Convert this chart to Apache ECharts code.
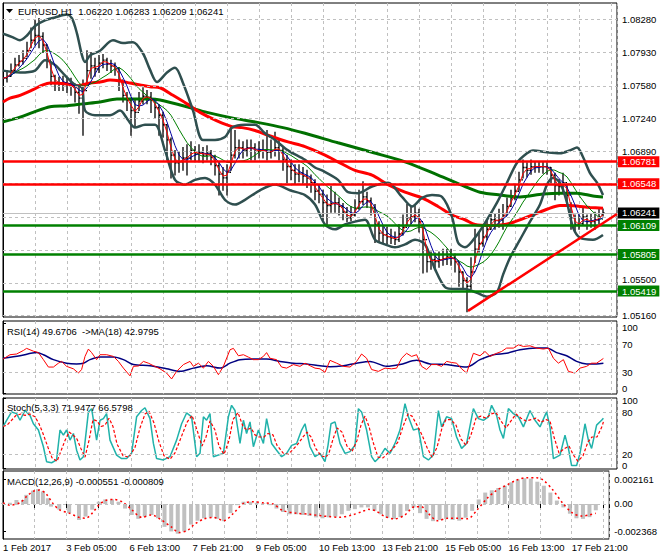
<!DOCTYPE html>
<html><head><meta charset="utf-8">
<script src="https://cdn.jsdelivr.net/npm/echarts@6/dist/echarts.min.js"></script>
<style>html,body{margin:0;padding:0;background:#fff}#c{width:660px;height:560px}</style>
</head><body><div id="c"></div>
<script>
// ---------- data ----------
const timeLabels = ["1 Feb 2017","3 Feb 05:00","6 Feb 13:00","7 Feb 21:00","9 Feb 05:00","10 Feb 13:00","13 Feb 21:00","15 Feb 05:00","16 Feb 13:00","17 Feb 21:00"];
const priceTicks = [1.08280,1.07930,1.07580,1.07240,1.06890,1.06550,1.06200,1.05850,1.05500,1.05160];
const priceTickLabels = [1.08280,1.07930,1.07580,1.07240,1.06890,1.05160]; // the others sit under the level tags
const rsiTicks = [0,30,70,100];
const rsiTickLabels = [30,70];
const stochTicks = [0,20,80,100];
const stochTickLabels = [20,80];
const macdTicks = [-0.002368,0,0.002161];
// labels MT4 prints slightly inside the pane edges: [pane, text, printed at value]
const edgeLabels = [[0,"1.05500",1.05536],[1,"100",93],[1,"0",7],[2,"100",96.7],[2,"0",4]];

const barStep = 2; // one sampled bar every 2 hourly bars
const barClose = [
1.0766,1.0768,1.0774,1.0780,1.0784,1.0787,1.0795,1.0806,1.0811,1.0810,
1.0801,1.0785,1.0768,1.0761,1.0761,1.0761,1.0760,1.0758,1.0751,1.0745,
1.0753,1.0774,1.0779,1.0776,1.0782,1.0785,1.0781,1.0779,1.0776,1.0764,
1.0748,1.0743,1.0732,1.0730,1.0742,1.0747,1.0746,1.0743,1.0735,1.0727,
1.0717,1.0701,1.0685,1.0677,1.0678,1.0682,1.0682,1.0690,1.0686,1.0688,
1.0685,1.0687,1.0683,1.0674,1.0665,1.0661,1.0667,1.0685,1.0693,1.0693,
1.0690,1.0693,1.0693,1.0689,1.0690,1.0690,1.0688,1.0689,1.0693,1.0690,
1.0680,1.0673,1.0669,1.0665,1.0666,1.0663,1.0661,1.0656,1.0647,1.0644,
1.0635,1.0632,1.0634,1.0635,1.0631,1.0625,1.0619,1.0622,1.0629,1.0636,
1.0641,1.0637,1.0630,1.0612,1.0603,1.0601,1.0599,1.0598,1.0596,1.0602,
1.0609,1.0619,1.0620,1.0624,1.0615,1.0596,1.0573,1.0575,1.0573,1.0575,
1.0576,1.0578,1.0577,1.0573,1.0562,1.0553,1.0547,1.0562,1.0586,1.0592,
1.0599,1.0607,1.0617,1.0616,1.0617,1.0621,1.0631,1.0640,1.0647,1.0659,
1.0672,1.0669,1.0673,1.0673,1.0673,1.0673,1.0672,1.0664,1.0653,1.0652,
1.0656,1.0643,1.0619,1.0612,1.0613,1.0620,1.0615,1.0615,1.0617,1.0620,
1.06241];
const barHigh = [
1.0772,1.0774,1.0781,1.0787,1.0790,1.0795,1.0804,1.0819,1.0827,1.0829,
1.0814,1.0801,1.0783,1.0769,1.0767,1.0768,1.0766,1.0766,1.0760,1.0756,
1.0764,1.0795,1.0793,1.0787,1.0790,1.0791,1.0787,1.0785,1.0782,1.0777,
1.0762,1.0751,1.0745,1.0743,1.0751,1.0756,1.0753,1.0751,1.0743,1.0738,
1.0730,1.0717,1.0703,1.0690,1.0688,1.0693,1.0696,1.0699,1.0694,1.0696,
1.0693,1.0695,1.0690,1.0685,1.0678,1.0672,1.0675,1.0714,1.0711,1.0701,
1.0699,1.0701,1.0701,1.0697,1.0699,1.0701,1.0711,1.0701,1.0709,1.0701,
1.0693,1.0685,1.0680,1.0675,1.0675,1.0672,1.0669,1.0664,1.0659,1.0654,
1.0648,1.0643,1.0652,1.0646,1.0640,1.0634,1.0630,1.0631,1.0638,1.0648,
1.0657,1.0646,1.0640,1.0633,1.0615,1.0611,1.0609,1.0607,1.0604,1.0612,
1.0622,1.0633,1.0630,1.0633,1.0628,1.0612,1.0588,1.0583,1.0582,1.0583,
1.0586,1.0586,1.0586,1.0581,1.0572,1.0562,1.0556,1.0577,1.0607,1.0603,
1.0609,1.0617,1.0623,1.0623,1.0628,1.0633,1.0640,1.0648,1.0654,1.0667,
1.0680,1.0677,1.0680,1.0678,1.0678,1.0678,1.0677,1.0672,1.0666,1.0659,
1.0666,1.0654,1.0635,1.0622,1.0622,1.0631,1.0622,1.0623,1.0625,1.0628,
1.06283];
const barLow = [
1.0761,1.0762,1.0768,1.0774,1.0779,1.0781,1.0789,1.0798,1.0801,1.0798,
1.0793,1.0777,1.0759,1.0753,1.0753,1.0753,1.0751,1.0748,1.0741,1.0729,
1.0706,1.0762,1.0766,1.0768,1.0772,1.0777,1.0774,1.0772,1.0769,1.0753,
1.0741,1.0732,1.0706,1.0714,1.0732,1.0739,1.0739,1.0730,1.0724,1.0706,
1.0704,1.0680,1.0661,1.0664,1.0667,1.0669,1.0664,1.0680,1.0678,1.0678,
1.0677,1.0680,1.0675,1.0664,1.0643,1.0648,1.0643,1.0669,1.0682,1.0682,
1.0682,1.0684,1.0680,1.0680,1.0682,1.0682,1.0680,1.0682,1.0684,1.0680,
1.0669,1.0654,1.0659,1.0654,1.0657,1.0654,1.0651,1.0646,1.0638,1.0635,
1.0617,1.0610,1.0625,1.0625,1.0622,1.0617,1.0615,1.0616,1.0621,1.0628,
1.0633,1.0630,1.0622,1.0593,1.0593,1.0593,1.0592,1.0592,1.0591,1.0594,
1.0601,1.0612,1.0613,1.0615,1.0604,1.0561,1.0562,1.0565,1.0565,1.0567,
1.0569,1.0570,1.0569,1.0562,1.0547,1.0544,1.0520,1.0544,1.0572,1.0583,
1.0589,1.0596,1.0607,1.0607,1.0609,1.0607,1.0622,1.0631,1.0638,1.0648,
1.0661,1.0662,1.0665,1.0667,1.0667,1.0666,1.0665,1.0656,1.0638,1.0643,
1.0646,1.0635,1.0607,1.0604,1.0607,1.0612,1.0607,1.0609,1.0607,1.0613,
1.06209];
// [bar index, price]
const ma100 = [[0,1.0741],[3.5,1.0745],[8.5,1.0748],[15,1.0754],[20,1.0759],[23.5,1.0761],[32,1.0760],[37,1.0758],[43.5,1.0761],[48.5,1.0762],[53.5,1.0764],[58.5,1.0763],[63.5,1.0761],[68.5,1.0759],[73.5,1.0757],[78.5,1.0756],[85,1.0748],[92,1.0739],[98.5,1.0730],[107,1.0721],[114.5,1.0715],[119.5,1.0714],[126,1.0711],[132.5,1.0706],[142.5,1.0699],[151,1.0694],[161,1.0685],[167.5,1.0678],[176,1.0669],[184.5,1.0664],[192.5,1.0654],[201,1.0646],[209.5,1.0640],[217.5,1.0631],[224.5,1.0622],[231,1.0617],[236,1.0612],[243.5,1.0611],[251,1.0612],[256,1.0615],[261,1.0619],[266,1.0623],[272,1.0628],[278.5,1.0632],[283.5,1.0632],[288.5,1.0631],[293.5,1.0630],[300,1.0629]];
const ma200 = [[0,1.0720],[8.5,1.0725],[15,1.0730],[23.5,1.0736],[32,1.0737],[40,1.0739],[48.5,1.0741],[57,1.0744],[65,1.0744],[73.5,1.0744],[78.5,1.0743],[92,1.0736],[102,1.0730],[115,1.0724],[128.5,1.0719],[140,1.0714],[151,1.0708],[167.5,1.0698],[184.5,1.0688],[201,1.0678],[217.5,1.0664],[231,1.0652],[238.5,1.0646],[248.5,1.0643],[258.5,1.0641],[270,1.0644],[278.5,1.0645],[287,1.0645],[295,1.0642],[300,1.0641]];
const bbUpper = [[0,1.0813],[5,1.0809],[8.5,1.0806],[12,1.0811],[16,1.0821],[21,1.0827],[26,1.0830],[32,1.0833],[34.5,1.0829],[37,1.0813],[39.5,1.0790],[41,1.0783],[43.5,1.0790],[48.5,1.0795],[55,1.0806],[60,1.0803],[65,1.0804],[70,1.0792],[73.5,1.0775],[77,1.0762],[82,1.0772],[86,1.0777],[90,1.0761],[95,1.0732],[100,1.0701],[106,1.0701],[111,1.0704],[114.5,1.0714],[121,1.0717],[126,1.0717],[131,1.0708],[136,1.0701],[142.5,1.0690],[151,1.0680],[156,1.0672],[159.5,1.0669],[167.5,1.0659],[172.5,1.0646],[177.5,1.0645],[184.5,1.0652],[192.5,1.0656],[199.5,1.0641],[204.5,1.0631],[209.5,1.0640],[214.5,1.0643],[219.5,1.0641],[224.5,1.0620],[227.5,1.0593],[231,1.0588],[237,1.0601],[242,1.0617],[247,1.0635],[252,1.0656],[257,1.0677],[262,1.0687],[265,1.0690],[272,1.0688],[278.5,1.0687],[283.5,1.0690],[287,1.0693],[290,1.0683],[293.5,1.0666],[297,1.0656],[300,1.0643]];
const bbLower = [[0,1.0774],[8.5,1.0772],[16,1.0774],[21,1.0785],[26,1.0780],[31,1.0769],[36,1.0759],[39.5,1.0756],[41,1.0732],[46,1.0727],[53.5,1.0727],[58.5,1.0732],[62.5,1.0722],[66,1.0714],[71,1.0717],[76,1.0717],[81,1.0690],[86,1.0659],[91,1.0654],[96,1.0659],[101,1.0661],[106,1.0654],[111,1.0638],[116,1.0633],[121,1.0638],[128.5,1.0648],[136,1.0654],[143.5,1.0648],[151,1.0643],[156,1.0633],[161,1.0612],[166,1.0607],[171,1.0612],[176,1.0615],[181,1.0617],[186,1.0596],[191,1.0591],[196,1.0588],[201,1.0591],[206,1.0596],[211,1.0591],[216,1.0565],[221,1.0546],[226,1.0544],[231,1.0544],[237,1.0540],[242,1.0536],[247,1.0541],[250,1.0559],[253.5,1.0577],[258.5,1.0596],[263.5,1.0615],[268.5,1.0633],[272,1.0654],[275,1.0661],[278.5,1.0656],[282,1.0635],[285,1.0609],[288.5,1.0598],[295,1.0596],[300,1.0601]];
const trendLine = [[232.5,1.0521],[307,1.0623]];
const redLevels = [1.06781,1.06548];
const greenLevels = [1.06109,1.05805,1.05419];
const bidPrice = 1.06241;

const rsi = [[0,48.8],[3.5,55],[6.8,56],[10.2,61],[11.8,64],[13.5,62],[15.2,60],[17.7,58],[20.2,48],[22.7,37.5],[25.2,37.5],[27.7,43],[29.3,45.5],[31.8,38.5],[35.2,35],[37.7,29],[39.3,34],[41,52.6],[42.7,63],[44.3,58],[46.8,48],[48.5,55],[51.8,55],[55.2,52.6],[57.7,45.5],[60.2,36],[63.5,25],[65.2,38.5],[67.7,39],[70.2,45.5],[72.7,43],[75.2,39.4],[78.5,35],[81.8,29],[84.3,20.6],[86.8,31.4],[90.2,41],[93.5,45.5],[95.2,38.5],[97.7,43],[100.2,36],[102.7,45.5],[105.2,38.5],[107.7,26.7],[110.2,38.5],[113.5,62],[115.2,64],[117.7,53.5],[120.2,55],[122.7,51.6],[125.2,48],[127.7,48],[130.2,52.6],[131.8,58],[133.5,50],[136.8,48],[139.3,37.5],[141.8,36],[145.2,41],[148.5,38.5],[151,43],[153.5,39.4],[156,36],[158.5,35],[161,30],[163.5,47],[166.8,43],[170.2,38.5],[173.5,37.5],[176.8,45.5],[179.3,56],[181.8,50],[184.3,34],[187.7,31.4],[191,36],[194.3,35],[196.8,36],[199.3,50],[201.8,57],[204.3,52.6],[206.8,55],[209.3,38.5],[211.8,34],[214.3,41],[216.8,41],[219.3,38.5],[221.8,45.5],[224.3,44],[226.8,43],[229.3,35],[231.8,29],[233.5,43],[235.2,57],[238.5,53.5],[241,59.6],[243.5,52.6],[246.8,57],[249.3,59.6],[251.8,64.4],[255.2,64.4],[257.7,69],[260.2,66.7],[263.5,67.6],[266.8,64.4],[270.2,63],[272.7,64.4],[275.2,50],[277.7,43],[280.2,48],[282.7,31.4],[286,29],[288.5,36],[291.8,38.5],[294.3,43],[296.8,43],[300.2,49.7]];
const rsiMa = [[0,50],[8.5,53.5],[16.8,58],[20.2,55],[25.2,48],[31.8,43],[36.8,42],[40.2,43],[43.5,48],[48.5,51.6],[55.2,51.6],[60.2,48],[65.2,41],[73.5,39.4],[81.8,35],[88.5,31.4],[95.2,36],[101.8,39.4],[108.5,36],[113.5,43],[118.5,48],[125.2,48.8],[131.8,48.8],[138.5,45.5],[145.2,43],[151.8,42],[158.5,39.4],[163.5,38],[170.2,39.4],[176.8,43],[183.5,45.5],[191.8,38.5],[198.5,41],[206.8,47],[213.5,42],[221.8,41],[231.8,37.5],[238.5,48],[245.2,55],[251.8,57],[258.5,62],[266.8,64.4],[271.8,64.4],[276.8,58],[281.8,53.5],[286.8,45.5],[291.8,42],[296.8,42],[300.2,43]];

const stochMain = [[0,59.5],[1.8,69],[4.3,81],[6.8,78.6],[8.5,69],[11,83],[13.5,76],[15.2,64],[17.7,55],[20.2,31],[21.8,9.5],[24.3,8],[26.8,12],[28.5,55],[30.2,47.6],[31.8,55],[33.5,40.5],[35.2,50],[36.8,26],[38.5,12],[40.2,16.7],[42.7,81],[44.3,85.7],[46.8,40.5],[48.5,69],[50.2,71.4],[51.8,78.6],[53.5,40.5],[56.8,19],[59.3,14],[61.8,14],[64.3,21.5],[66.8,74],[69.3,83],[71,87],[73.5,71.4],[75.2,35.7],[76.8,14],[80.2,12],[83.5,16.7],[86.8,40.5],[89.3,64],[91.8,79.5],[94.3,74],[96.8,16.7],[98.5,21.5],[100.2,74],[101.8,69],[103.5,78.6],[105.2,16.7],[107.7,19],[110.2,21.5],[112.7,74],[114.3,90.5],[116,83],[118.5,35.7],[120.2,69],[121.8,50],[123.5,66.7],[125.2,31],[127.7,55],[130.2,35.7],[131.8,71.4],[134.3,35.7],[136.8,26],[139.3,16.7],[141.8,21.5],[144.3,33],[146.8,35.7],[149.3,55],[151,64],[153.5,31],[156,16.7],[158.5,21.5],[161,9.5],[162.5,33],[164,64],[166,66.7],[168.5,35.7],[171,21.5],[173.5,24],[176,33],[177.7,85.7],[179.3,81],[181.8,55],[184.3,16.7],[186,9.5],[188.5,16.7],[191,28.6],[193.5,21.5],[196,35.7],[198.5,55],[201,93],[202.7,74],[205.2,55],[207.7,57],[210.2,16.7],[212.7,12],[215.2,19],[217.7,83],[219.3,59.5],[221.8,74],[224.3,71.4],[226.8,45],[229.3,28.6],[231.8,35.7],[235.2,85.7],[237.7,71.4],[240.2,69],[242.7,74],[244.3,90.5],[246.8,76],[248.5,55],[250.2,43],[252.7,85.7],[255.2,78.6],[257.7,74],[260.2,59.5],[263.5,83],[266,69],[268.5,59.5],[271.8,81],[273.5,59.5],[275.2,14],[278.5,19],[281,47.6],[282.7,28.6],[284.3,4],[286.8,4],[288.5,21.5],[291,64],[292.7,40.5],[294.3,28.6],[296.8,62],[299.3,69],[300.2,71.9]];
const stochSignal = [[0,60],[2,62],[4,68],[6.5,76],[9,78],[11,76],[13.5,78],[16,74],[18,64],[20,50],[22.5,30],[24.5,15],[27,10],[29,25],[31,40],[33,52],[35,48],[37,42],[39,28],[41,16],[43,40],[45,70],[47,68],[49,60],[51,62],[53,72],[55,60],[57,35],[60,18],[63,16],[66,30],[68.5,58],[71,78],[73,82],[75.5,65],[78,38],[80.5,18],[83.5,13],[86,22],[89,44],[92,66],[94.5,76],[97,55],[99.5,32],[101.5,45],[103.5,68],[106,55],[108,32],[110.5,20],[113,40],[115,70],[117.5,80],[120,60],[122,55],[124,58],[126,48],[128,45],[130.5,45],[132.5,50],[135,48],[137,33],[140,22],[142.5,20],[145,27],[147.5,35],[150,45],[152,52],[154,45],[156.5,28],[159,18],[161.5,16],[163,22],[165,42],[167,58],[169.5,52],[172,32],[174.5,24],[177,40],[179,62],[181,75],[183,60],[185,38],[187.5,16],[190,15],[192.5,22],[195,28],[197.5,38],[200,60],[202.5,78],[204.5,75],[207,62],[209.5,48],[212,30],[214.5,16],[217,30],[219.5,58],[221.5,70],[224,70],[226.5,62],[229,42],[231.5,33],[234,48],[236.5,72],[239,75],[241.5,72],[244,78],[246.5,80],[249,68],[251.5,58],[254,68],[256.5,78],[259,72],[261.5,68],[264,70],[266.5,72],[269,66],[271.5,70],[273.5,68],[275.5,45],[278,22],[280.5,28],[283,32],[285,20],[287.5,10],[290,18],[292.5,38],[294.5,45],[297,45],[299.5,60],[300.2,66.6]];

const macdMain = [[0,0.0001],[3.5,0.0001],[6.8,0.00035],[10.2,0.00035],[11.8,0.0008],[15.2,0.00117],[17.7,0.0013],[20.2,0.0011],[22.7,0.0005],[24.3,-0.00023],[28.5,-0.0005],[33.5,-0.0008],[38.5,-0.0014],[41.8,-0.0011],[45.2,-0.0005],[48.5,0.0002],[51.8,0.0004],[55.2,0.0004],[58.5,0.0002],[61.8,-0.0004],[65.2,-0.00096],[68.5,-0.0013],[71.8,-0.0011],[75.2,-0.00096],[78.5,-0.00125],[81.8,-0.002],[85.2,-0.0024],[88.5,-0.0026],[91.8,-0.0024],[95.2,-0.0018],[98.5,-0.00146],[101.8,-0.00125],[105.2,-0.00117],[108.5,-0.0013],[111.8,-0.0015],[115.2,-0.0008],[118.5,-0.0001],[121.8,0.0002],[125.2,0.0002],[128.5,0.0001],[131.8,0.00006],[135.2,-0.0001],[138.5,-0.0004],[141.8,-0.0007],[145.2,-0.0009],[148.5,-0.0009],[151.8,-0.00096],[155.2,-0.00105],[158.5,-0.00117],[161.8,-0.00125],[165,-0.00117],[168.3,-0.0011],[171.6,-0.0009],[174.9,-0.0006],[178.2,-0.00045],[181.5,-0.0003],[184.8,-0.0003],[188.1,-0.0006],[191.4,-0.0009],[194.7,-0.0012],[198,-0.0013],[201.3,-0.00115],[204.6,-0.0006],[207.9,-0.0003],[211.2,-0.0008],[214.5,-0.0013],[217.8,-0.0015],[221.1,-0.0014],[224.4,-0.0013],[227.7,-0.0014],[231,-0.00146],[234.3,-0.0012],[237.6,-0.0006],[240.9,0.0004],[244.2,0.001],[247.5,0.0012],[250.8,0.0014],[254.1,0.0016],[257.4,0.0019],[260.7,0.00215],[264,0.00225],[267.3,0.00222],[270.6,0.00195],[273.9,0.0016],[277.2,0.001],[280.5,0.0003],[283.8,-0.0003],[287.1,-0.00085],[290.4,-0.00125],[293.7,-0.0013],[297,-0.00115],[300.2,-0.00055]];
const macdSignal = [[0,0.0001],[3.5,-0.0001],[8.5,0.0001],[11.8,0.00064],[15.2,0.0011],[18.5,0.00122],[21.8,0.0009],[25.2,0.00006],[28.5,-0.0005],[33.5,-0.0008],[38.5,-0.00117],[41.8,-0.00125],[45.2,-0.0008],[48.5,-0.0001],[51.8,0.0003],[56,0.0004],[60.2,0.0002],[65.2,-0.0005],[70.2,-0.00117],[75.2,-0.00096],[80.2,-0.0014],[85.2,-0.002],[89.3,-0.0025],[93.5,-0.0023],[96.8,-0.0018],[101.8,-0.0013],[106.8,-0.00117],[111.8,-0.00146],[116.8,-0.0008],[121.8,0.00006],[126.8,0.0002],[131.8,0.0001],[136.8,0],[141.8,-0.00058],[148.5,-0.0008],[155.2,-0.0009],[161.8,-0.00105],[165,-0.0011],[170.2,-0.00117],[176.8,-0.00096],[181.8,-0.00067],[185.2,-0.00047],[188.5,-0.00058],[193.5,-0.0011],[198.5,-0.0013],[203.5,-0.00096],[208.5,-0.00023],[211.8,-0.00023],[215.2,-0.0008],[220.2,-0.00146],[225.2,-0.00125],[230.2,-0.00125],[235.2,-0.0013],[240.2,-0.0005],[245.2,0.0005],[250.2,0.00122],[255.2,0.00166],[260.2,0.0021],[265.2,0.0023],[270.2,0.0023],[273.5,0.0021],[278.5,0.00122],[283.5,0.00006],[288.5,-0.0008],[293,-0.00105],[297,-0.00095],[300.2,-0.00081]];

// ---------- chart ----------
const FONT = 'Liberation Sans', FS = 9.5;
const W = 660, X_MAX = 307, LEFT = 3, RIGHT = 43, LABEL_GAP = 5;
const fastPeriod = 2, midPeriod = 4, slowPeriod = 9; // in sampled bars
function sma(src, n){
  return src.map((v,k)=>{const s=Math.max(0,k-n+1);let t=0;for(let j=s;j<=k;j++)t+=src[j];return [k*barStep, t/(k-s+1)];});
}
const bars = barClose.map((c,k)=>[k*barStep, k?barClose[k-1]:c, barHigh[k], barLow[k], c]);
bars[bars.length-1][1] = 1.06220;

const chart = echarts.init(document.getElementById('c'), null, {renderer:'svg', width:W, height:560});
const paneBoxes = [{top:3, height:314},{top:321, height:73},{top:398, height:71},{top:471, height:68}];
const paneRanges = [[1.05146,1.08452],[-0.7,102.8],[-1,101],[-0.003062,0.002887]];
const grids = paneBoxes.map(g=>Object.assign({left:LEFT, right:RIGHT, show:true, borderColor:'#000', borderWidth:1, backgroundColor:'#fff'}, g));

const dash = {color:'#c0c0c0', type:[3,3], width:1};
const xAxes = [0,1,2,3].map(g=>({
  type:'value', gridIndex:g, min:0, max:X_MAX, interval:16,
  axisLine:{show:false},
  axisTick:{show:g===3, length:4, lineStyle:{color:'#000'}},
  axisLabel:{show:g===3, align:'left', margin:3, color:'#000', fontSize:FS, fontFamily:FONT,
    formatter:v=>(v%32===0 && v/32<timeLabels.length)?timeLabels[v/32]:''},
  splitLine:{show:true, lineStyle:dash}
}));
function yAx(g, ticks, labels, fmt){
  return {type:'value', gridIndex:g, position:'right', min:paneRanges[g][0], max:paneRanges[g][1],
    axisLine:{show:true, lineStyle:{color:'#000'}},
    axisTick:{show:true, length:3, customValues:ticks, lineStyle:{color:'#000'}},
    axisLabel:{customValues:labels, formatter:fmt, margin:LABEL_GAP, color:'#000', fontSize:FS, fontFamily:FONT},
    splitLine:{show:false}};
}
const yAxes = [
  yAx(0, priceTicks, priceTickLabels, v=>v.toFixed(5)),
  yAx(1, rsiTicks, rsiTickLabels, v=>String(v)),
  yAx(2, stochTicks, stochTickLabels, v=>String(v)),
  yAx(3, macdTicks, macdTicks, v=>Math.abs(v)<1e-9?'0.00':v.toFixed(6))
];
function gridLines(g, vals){
  return {type:'line', xAxisIndex:g, yAxisIndex:g, data:[], silent:true, z:1,
    markLine:{silent:true, animation:false, precision:8, symbol:['none','none'], label:{show:false}, lineStyle:dash,
      data:vals.map(v=>({yAxis:v}))}};
}
function line(g, data, color, width, extra){
  return Object.assign({type:'line', xAxisIndex:g, yAxisIndex:g, data, showSymbol:false, symbol:'none', silent:true,
    lineStyle:{color, width}, z:3}, extra||{});
}
function level(v, color, width, bg){
  return {yAxis:v, lineStyle:{color, width, type:'solid'},
    label:{show:true, position:'end', distance:1, formatter:()=>v.toFixed(5), color:'#fff', backgroundColor:bg,
      padding:[1,3,0,4], fontSize:FS, fontFamily:FONT}};
}

const series = [
  gridLines(0, priceTicks), gridLines(1,[30,70]), gridLines(2,[20,80]), gridLines(3,[0]),
  {type:'custom', xAxisIndex:0, yAxisIndex:0, data:bars, z:2, silent:true, clip:true,
    encode:{x:0, y:[1,2,3,4]},
    renderItem:(p, api)=>{
      const x=api.value(0);
      const o=api.coord([x,api.value(1)]), h=api.coord([x,api.value(2)]), l=api.coord([x,api.value(3)]), c=api.coord([x,api.value(4)]);
      const st={stroke:'#000', lineWidth:1.3};
      return {type:'group', children:[
        {type:'line', shape:{x1:h[0],y1:h[1]-0.5,x2:l[0],y2:l[1]+0.5}, style:st},
        {type:'line', shape:{x1:o[0]-1.6,y1:o[1],x2:o[0],y2:o[1]}, style:st},
        {type:'line', shape:{x1:c[0],y1:c[1],x2:c[0]+1.6,y2:c[1]}, style:st}
      ]};
    }},
  line(0, ma200, '#007000', 3, {smooth:0.3}),
  line(0, ma100, '#ff0000', 3, {smooth:0.3}),
  line(0, bbUpper, '#2f4f4f', 2.5, {smooth:0.3}),
  line(0, bbLower, '#2f4f4f', 2.5, {smooth:0.3}),
  line(0, sma(barClose, slowPeriod), '#008000', 1, {z:4}),
  line(0, sma(barClose, midPeriod), '#0000a0', 1, {z:4}),
  line(0, sma(barClose, fastPeriod), '#ff0000', 1, {z:4}),
  {type:'line', xAxisIndex:0, yAxisIndex:0, data:[], silent:true, z:5,
    markLine:{silent:true, animation:false, precision:8, symbol:['none','none'],
      data:[
        level(bidPrice, '#c0c0c0', 1, '#000'),
        ...redLevels.map(v=>level(v,'#ff0000',2.5,'#ff0000')),
        ...greenLevels.map(v=>level(v,'#008000',2.5,'#008000'))
      ]}},
  line(0, trendLine, '#ff0000', 2.5, {z:6}),
  line(1, rsiMa, '#000080', 1.5, {smooth:0.3}),
  line(1, rsi, '#ff0000', 1, {z:4}),
  line(2, stochMain, '#20b2aa', 1.5),
  line(2, stochSignal, '#ff0000', 1.2, {z:4, lineStyle:{color:'#ff0000', width:1.2, type:[3,2]}}),
  {type:'bar', xAxisIndex:3, yAxisIndex:3, data:macdMain, barWidth:4, itemStyle:{color:'#c0c0c0'}, silent:true, z:2},
  line(3, macdSignal, '#ff0000', 1.5, {z:4, smooth:0.3, lineStyle:{color:'#ff0000', width:1.5, type:[2,3]}})
];

// the pane's linear value scale, as configured above (same box + min/max the axes use)
function paneY(g, v){
  const b = paneBoxes[g], r = paneRanges[g];
  return b.top + (r[1]-v)/(r[1]-r[0])*b.height;
}
const labelX = W - RIGHT + LABEL_GAP;
const txt = (x,y,t)=>({type:'text', x, y, z:100, zlevel:1, style:{text:t, fill:'#000', font:FS+'px "'+FONT+'"', textVerticalAlign:'middle', verticalAlign:'middle'}});
chart.setOption({
  animation:false, backgroundColor:'#fff',
  grid:grids, xAxis:xAxes, yAxis:yAxes, series,
  graphic:[
    {type:'polygon', z:100, shape:{points:[[6,9],[13,9],[9.5,13]]}, style:{fill:'#000'}},
    txt(18,11,'EURUSD,H1\u00a0 1.06220 1.06283 1.06209 1.06241'),
    txt(7,331,'RSI(14) 49.6706\u00a0 ->MA(18) 42.9795'),
    txt(7,407,'Stoch(5,3,3) 71.9477 66.5798'),
    txt(7,481,'MACD(12,26,9) -0.000551 -0.000809'),
    ...edgeLabels.map(([g,t,v])=>txt(labelX, paneY(g, v), t))
  ]
});
</script></body></html>
